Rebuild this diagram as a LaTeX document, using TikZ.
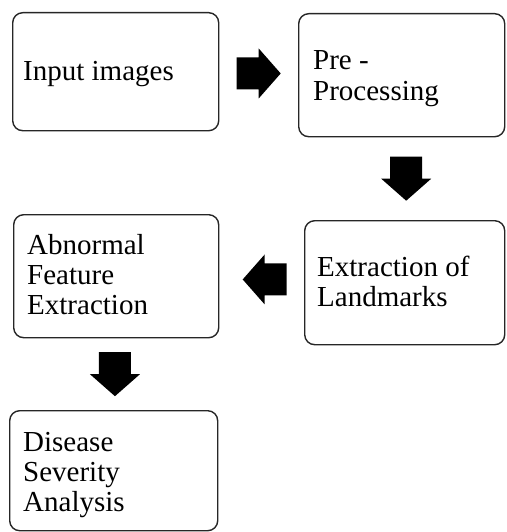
\documentclass[tikz,border=0pt]{standalone}
\usepackage{fontspec}
\setmainfont{Liberation Serif}
\usetikzlibrary{calc}
\tikzset{
  box/.style={draw=black!85, line width=1.4pt, rounded corners=10pt, anchor=north west, inner sep=0pt},
  lbl/.style={anchor=base west, align=left, inner sep=0pt, font=\fontsize{29}{30}\selectfont},
  barrow/.pic={\fill[black] (-22,-16) -- (0,-16) -- (0,-25) -- (22,0) -- (0,25) -- (0,16) -- (-22,16) -- cycle;}
}
\begin{document}
\begin{tikzpicture}[x=1pt,y=1pt]
\useasboundingbox (0,0) rectangle (506,-532);
% boxes
\node[box, minimum width=206pt, minimum height=118pt] (b1) at (12,-12) {};
\node[box, minimum width=206pt, minimum height=123pt] (b2) at (298,-13) {};
\node[box, minimum width=200pt, minimum height=124pt] (b3) at (304,-220) {};
\node[box, minimum width=205pt, minimum height=123pt] (b4) at (13,-214) {};
\node[box, minimum width=208pt, minimum height=120pt] (b5) at (9,-410) {};
% texts (base anchor = baseline of the last line)
\node[lbl] (t1) at ($(b1.north west)+(11,-69)$) {Input images};
\node[lbl] (t2) at ($(b2.north west)+(15,-87)$) {Pre -\\Processing};
\node[lbl] (t3) at ($(b3.north west)+(13,-86)$) {Extraction of\\Landmarks};
\node[lbl] (t4) at ($(b4.north west)+(14,-100)$) {Abnormal\\Feature\\Extraction};
\node[lbl] (t5) at ($(b5.north west)+(14,-101)$) {Disease\\Severity\\Analysis};
% block arrows
\coordinate (m1) at ($(b1.east)!0.5!(b2.west)$);
\coordinate (m2) at ($($(b2.south)!0.5!(b3.north)$)+(3,0)$);
\coordinate (m3) at ($($(b3.west)!0.5!(b4.east)$)+(3,0)$);
\coordinate (m4) at ($(b4.south)!0.5!(b5.north)$);
\pic at (m1) {barrow};
\pic[rotate=-90] at (m2) {barrow};
\pic[rotate=180] at (m3) {barrow};
\pic[rotate=-90] at (m4) {barrow};
\end{tikzpicture}
\end{document}
